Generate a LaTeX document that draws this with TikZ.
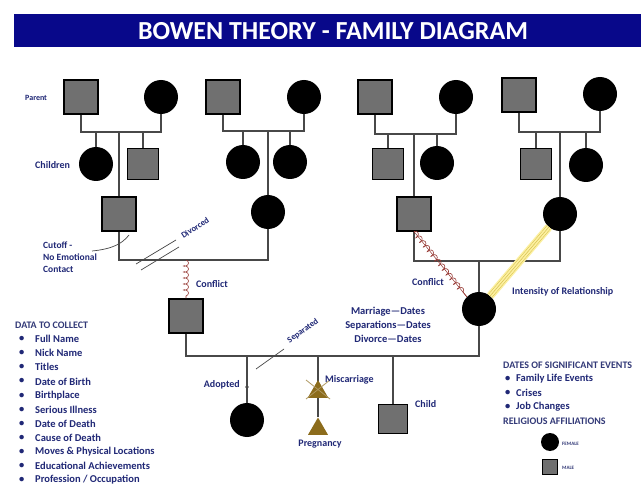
\documentclass[tikz,border=0pt]{standalone}
\usepackage{fontspec}
\setmainfont{Carlito}
\usetikzlibrary{shapes.geometric,decorations.pathmorphing,calc}
\definecolor{navy}{RGB}{32,40,118}
\definecolor{sqgray}{RGB}{112,112,112}
\definecolor{linegray}{RGB}{72,72,72}
\definecolor{bannerblue}{RGB}{8,8,138}
\definecolor{olive}{RGB}{140,108,28}
\definecolor{conflictred}{RGB}{150,55,50}
\definecolor{bandfill}{RGB}{252,240,160}
\definecolor{bandline}{RGB}{215,192,80}
\tikzset{
  male/.style={rectangle, draw=black, line width=1.1pt, fill=sqgray, minimum size=#1, inner sep=0pt},
  male/.default=34pt,
  female/.style={circle, fill=black, minimum size=#1, inner sep=0pt},
  female/.default=34pt,
  rel/.style={draw=linegray, line width=1.6pt},
  lbl/.style={text=navy, font=\bfseries\fontsize{10}{11}\selectfont, inner sep=0pt},
  listtxt/.style={text=navy, font=\bfseries\fontsize{10.5}{11}\selectfont, inner sep=0pt, anchor=west},
  listhead/.style={text=navy!80!gray, font=\bfseries\fontsize{10}{11}\selectfont, inner sep=0pt, anchor=west},
  conflict/.style={draw=conflictred, line width=0.6pt, decorate,
    decoration={coil, aspect=0.6, amplitude=2.5pt, segment length=6pt}},
  band/.style={draw=bandfill, line width=8pt,
    postaction={draw=bandline, line width=0.5pt, double=bandfill, double distance=4pt},
    postaction={draw=bandline, line width=0.5pt}},
  tri/.style={regular polygon, regular polygon sides=3, fill=olive, minimum size=23pt, inner sep=0pt},
  xmark/.style={draw=olive!70!white, line width=0.8pt},
  thinline/.style={draw=linegray, line width=0.7pt},
}
\begin{document}
\begin{tikzpicture}[x=1pt,y=-1pt]
\useasboundingbox (0,0) rectangle (641,487);
\fill[white] (0,0) rectangle (641,487);
% banner
\fill[bannerblue] (14,14) rectangle (641,47);
\node[text=white, font=\bfseries\fontsize{26}{28}\selectfont, inner sep=0pt] (title) at (333,31) {BOWEN THEORY - FAMILY DIAGRAM};

% family 1
\node[male] (p1) at (81,97) {};
\node[female] (m1) at (161,97) {};
\coordinate (j1) at (81,132);
\draw[rel] (p1) -- (j1) -| (m1);
\node[female] (c1a) at (96,164) {};
\node[male=31pt] (c1b) at (143,164) {};
\node[male] (h1) at (119,214) {};
\draw[rel] (c1a) -- (c1a |- j1);
\draw[rel] (c1b) -- (c1b |- j1);
\draw[rel] (h1) -- (h1 |- j1);

% family 2
\node[male] (p2) at (223,97) {};
\node[female] (m2) at (304,97) {};
\coordinate (j2) at (223,131);
\draw[rel] (p2) -- (j2) -| (m2);
\node[female] (c2a) at (243,162) {};
\node[female] (c2b) at (290,162) {};
\node[female] (w1) at (268,212) {};
\draw[rel] (c2a) -- (c2a |- j2);
\draw[rel] (c2b) -- (c2b |- j2);
\draw[rel] (w1) -- (w1 |- j2);

% family 3
\node[male] (p3) at (375,97) {};
\node[female] (m3) at (456,97) {};
\coordinate (j3) at (375,134);
\draw[rel] (p3) -- (j3) -| (m3);
\node[male=31pt] (c3a) at (388,164) {};
\node[female] (c3b) at (437,163) {};
\node[male] (h2) at (414,214) {};
\draw[rel] (c3a) -- (c3a |- j3);
\draw[rel] (c3b) -- (c3b |- j3);
\draw[rel] (h2) -- (h2 |- j3);

% family 4
\node[male] (p4) at (519,95) {};
\node[female] (m4) at (600,94) {};
\coordinate (j4) at (519,132);
\draw[rel] (p4) -- (j4) -| (m4);
\node[male=31pt] (c4a) at (536,164) {};
\node[female] (c4b) at (586,165) {};
\node[female] (w3) at (560,214) {};
\draw[rel] (c4a) -- (c4a |- j4);
\draw[rel] (c4b) -- (c4b |- j4);
\draw[rel] (w3) -- (w3 |- j4);

% marriage 1 (divorced)
\coordinate (mj1) at (119,260);
\draw[rel] (h1) -- (mj1) -| (w1);
\coordinate (dv1a) at (136,264); \coordinate (dv1b) at (176,240);
\coordinate (dv2a) at (141,270); \coordinate (dv2b) at (179,247);
\draw[thinline] (dv1a) -- (dv1b);
\draw[thinline] (dv2a) -- (dv2b);
\node[lbl, rotate=33, font=\bfseries\fontsize{8.5}{9}\selectfont] (divorced) at (195,228) {Divorced};
% cutoff
\coordinate (co1) at (92,251); \coordinate (co2) at (129,235);
\draw[thinline] (co1) .. controls (112,249) and (122,244) .. (co2);
\node[lbl, anchor=north west, align=left, font=\bfseries\fontsize{9.5}{12}\selectfont] (cutoff) at (43,242) {Cutoff -\\No Emotional\\Contact};

% son of marriage 1
\node[male] (s2) at (186,316) {};
\coordinate (cj1) at (186,260);
\draw[conflict] (cj1) -- (s2.north);
\node[lbl, anchor=west] (conf1) at (196,284) {Conflict};

% marriage 2 (right)
\coordinate (mj3) at (414,261);
\draw[rel] (h2) -- (mj3) -| (w3);
\node[female] (w2) at (479,309) {};
\draw[rel] (w2) -- (w2 |- mj3);
\draw[conflictred, line width=0.5pt] (h2.south) -- (w2.north west);
\draw[conflict] (h2.south) -- (w2.north west);
\draw[band] (w3) -- (w2);
\node[lbl, anchor=west] (conf2) at (412,282) {Conflict};
\node[lbl, anchor=west] (intens) at (512,292) {Intensity of Relationship};

% bottom marriage
\coordinate (mj2) at (186,356);
\draw[rel] (s2) -- (mj2) -| (w2);
\node[lbl, align=center, font=\bfseries\fontsize{10.5}{14}\selectfont] (dates) at (388,325) {Marriage---Dates\\Separations---Dates\\Divorce---Dates};
\coordinate (sp1) at (256,369); \coordinate (sp2) at (284,349);
\draw[thinline] (sp1) -- (sp2);
\node[lbl, rotate=35, font=\bfseries\fontsize{8.5}{9}\selectfont] (separated) at (303,331) {Separated};

% children of bottom marriage
\node[female] (ad) at (247,420) {};
\draw[rel] (ad |- mj2) -- (ad);
\coordinate (adt) at (247,387);
\fill[linegray] (adt) circle (1.8);
\node[lbl, anchor=east] (adopted) at (240,385) {Adopted};

\node[tri] (mc) at (318,392) {};
\node[tri] (pr) at (318,429) {};
\draw[rel] (mc |- mj2) -- (mc.north);
\draw[rel] (mc.north) -- (pr.north);
\fill[olive] (mc.corner 1) -- (mc.corner 2) -- (mc.corner 3) -- cycle;
\draw[xmark] ($(mc.center)+(-12,-12)$) -- ($(mc.center)+(12,7)$);
\draw[xmark] ($(mc.center)+(12,-12)$) -- ($(mc.center)+(-12,7)$);
\node[lbl, anchor=west] (misc) at (325,380) {Miscarriage};
\node[lbl] (preg) at (320,444) {Pregnancy};

\node[male=29pt] (ch) at (393,419) {};
\draw[rel] (ch |- mj2) -- (ch);
\node[lbl, anchor=west] (child) at (415,404) {Child};

% generation labels
\node[lbl, anchor=west, font=\bfseries\fontsize{8}{9}\selectfont] (parent) at (25,98) {Parent};
\node[lbl, anchor=west] (children) at (35,165) {Children};

% data to collect
\node[listhead] (dhead) at (15,325) {DATA TO COLLECT};
\foreach \t [count=\i] in {Full Name, Nick Name, Titles, Date of Birth, Birthplace, Serious Illness, Date of Death, Cause of Death, Moves \& Physical Locations, Educational Achievements, Profession / Occupation}{
  \node[listtxt] (db\i) at (19,{325+14.1*\i}) {•};
  \node[listtxt] (d\i) at (35,{325+14.1*\i}) {\t};
}

% dates of significant events
\node[listhead] (ehead) at (503,365) {DATES OF SIGNIFICANT EVENTS};
\foreach \t [count=\i] in {Family Life Events, Crises, Job Changes}{
  \node[listtxt] (eb\i) at (505,{365+14*\i}) {•};
  \node[listtxt] (e\i) at (516,{365+14*\i}) {\t};
}
\node[listhead] (relig) at (503,421) {RELIGIOUS AFFILIATIONS};

% legend
\node[female=18pt] (lf) at (550,442) {};
\node[male=15pt, line width=0.8pt] (lm) at (550,467) {};
\node[listhead, font=\bfseries\fontsize{5}{6}\selectfont] (lft) at (562,444) {FEMALE};
\node[listhead, font=\bfseries\fontsize{5}{6}\selectfont] (lmt) at (562,468) {MALE};
\end{tikzpicture}
\end{document}
